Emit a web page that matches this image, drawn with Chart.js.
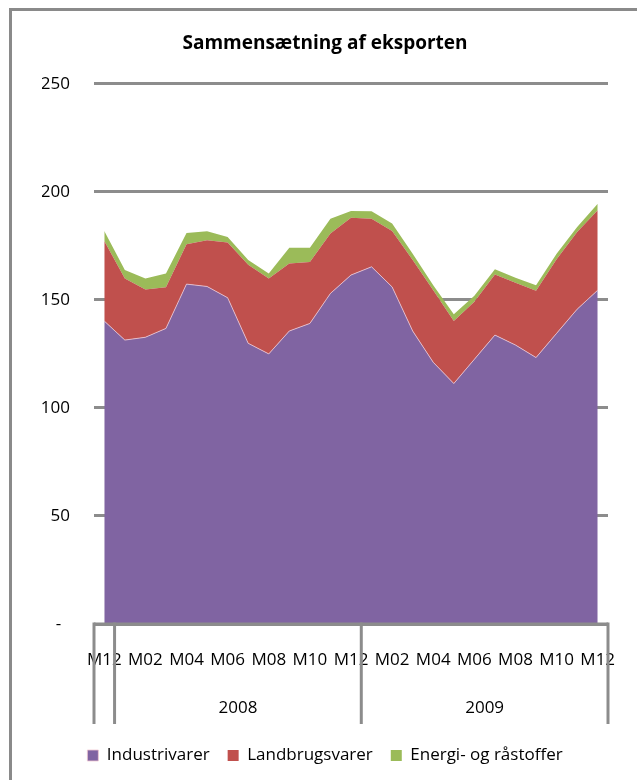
<!DOCTYPE html>
<html>
<head>
<meta charset="utf-8">
<script src="https://cdn.jsdelivr.net/npm/chart.js@4/dist/chart.umd.min.js"></script>
<style>
  html, body { margin: 0; padding: 0; overflow: hidden; background: #fff; }
  #frame { position: absolute; left: 9px; top: 8px; width: 700px; height: 800px; border: 3px solid #8a8a8a; }
  #wrap { position: absolute; left: 0; top: 0; width: 650px; height: 780px; }
</style>
</head>
<body>
<div id="frame"></div>
<div id="wrap"><canvas id="chart" width="650" height="780"></canvas></div>
<script>
const months = ["M12",
  "M01", "M02", "M03", "M04", "M05", "M06", "M07", "M08", "M09", "M10", "M11", "M12",
  "M01", "M02", "M03", "M04", "M05", "M06", "M07", "M08", "M09", "M10", "M11", "M12"];
const yearLabels = ["", "2008", "2009"];
const yearSizes = [1, 12, 12];

const industrivarer = [140.2, 131.4, 132.7, 136.8, 157.3, 156.2, 151.0, 129.9, 125.0, 135.6, 139.1, 153.0, 161.5,
  165.3, 156.0, 135.6, 121.1, 111.3, 122.5, 133.7, 129.1, 123.3, 134.5, 145.7, 154.5];
const landbrugsvarer = [37.1, 28.5, 22.1, 19.1, 18.4, 21.4, 25.5, 36.4, 34.9, 31.2, 28.4, 27.7, 26.5,
  22.3, 25.9, 32.8, 33.4, 28.9, 26.6, 28.0, 28.8, 30.9, 34.3, 35.7, 37.0];
const energi = [4.6, 3.9, 5.1, 6.3, 5.3, 4.2, 2.6, 2.1, 2.3, 7.3, 6.6, 6.9, 3.1,
  3.4, 3.4, 3.0, 2.3, 3.1, 2.8, 2.5, 2.3, 2.6, 2.6, 2.3, 3.0];

const gridColor = "#8c8c8c";
const font = "'Open Sans', sans-serif";

// draws the baseline, the year group separators and the year labels
const yearAxis = {
  id: "yearAxis",
  afterDraw(chart) {
    const { ctx, chartArea, scales: { x, y } } = chart;
    const base = y.getPixelForValue(0);
    const edge = (i) => {
      if (i === 0) return chartArea.left;
      if (i === months.length) return chartArea.right;
      return (x.getPixelForValue(i - 1) + x.getPixelForValue(i)) / 2;
    };
    ctx.save();
    ctx.strokeStyle = gridColor;
    ctx.lineWidth = 3;
    ctx.beginPath();
    ctx.moveTo(chartArea.left, base);
    ctx.lineTo(chartArea.right, base);
    ctx.stroke();

    ctx.font = "17px " + font;
    ctx.fillStyle = "#000";
    ctx.textAlign = "center";
    ctx.textBaseline = "middle";
    let start = 0;
    const edges = [0];
    yearSizes.forEach((n, g) => {
      const a = edge(start), b = edge(start + n);
      if (yearLabels[g]) ctx.fillText(yearLabels[g], (a + b) / 2, base + 84);
      start += n;
      edges.push(start);
    });
    edges.forEach((i) => {
      const px = edge(i);
      ctx.beginPath();
      ctx.moveTo(px, base - 1.5);
      ctx.lineTo(px, base + 100);
      ctx.stroke();
    });
    ctx.restore();
  }
};

new Chart(document.getElementById("chart"), {
  type: "line",
  data: {
    labels: months,
    datasets: [
      { label: "Industrivarer", data: industrivarer, backgroundColor: "#8064a2", borderColor: "rgba(240,200,210,0.8)", borderWidth: 1, fill: "origin" },
      { label: "Landbrugsvarer", data: landbrugsvarer, backgroundColor: "#c0504d", borderWidth: 0, fill: "-1" },
      { label: "Energi- og råstoffer", data: energi, backgroundColor: "#9bbb59", borderWidth: 0, fill: "-1" }
    ]
  },
  options: {
    responsive: false,
    animation: false,
    elements: { point: { radius: 0 }, line: { tension: 0 } },
    layout: { padding: { left: 42, right: 42, top: 0, bottom: 6 } },
    plugins: {
      title: {
        display: true,
        text: "Sammensætning af eksporten",
        color: "#000",
        font: { family: font, size: 19, weight: "bold" },
        padding: { top: 32, bottom: 29 }
      },
      legend: {
        position: "bottom",
        labels: {
          color: "#000",
          font: { family: font, size: 17 },
          boxWidth: 11,
          boxHeight: 11,
          padding: 18
        }
      },
      tooltip: { enabled: false }
    },
    scales: {
      x: {
        offset: true,
        grid: { display: false, drawTicks: false },
        border: { display: false },
        ticks: {
          autoSkip: false,
          maxRotation: 0,
          padding: 26,
          color: "#000",
          font: { family: font, size: 17 },
          callback(value, index) { return index % 2 === 0 ? months[index] : ""; }
        },
        afterFit(scale) { scale.height = 105; }
      },
      y: {
        stacked: true,
        min: 0,
        max: 250,
        grid: { color: gridColor, lineWidth: 3, drawTicks: false },
        border: { display: false },
        ticks: {
          stepSize: 50,
          padding: 24,
          color: "#000",
          font: { family: font, size: 17 },
          callback(value) { return value === 0 ? "-  " : value; }
        },
        afterFit(scale) { scale.width = 52; }
      }
    }
  },
  plugins: [yearAxis]
});
</script>
</body>
</html>
